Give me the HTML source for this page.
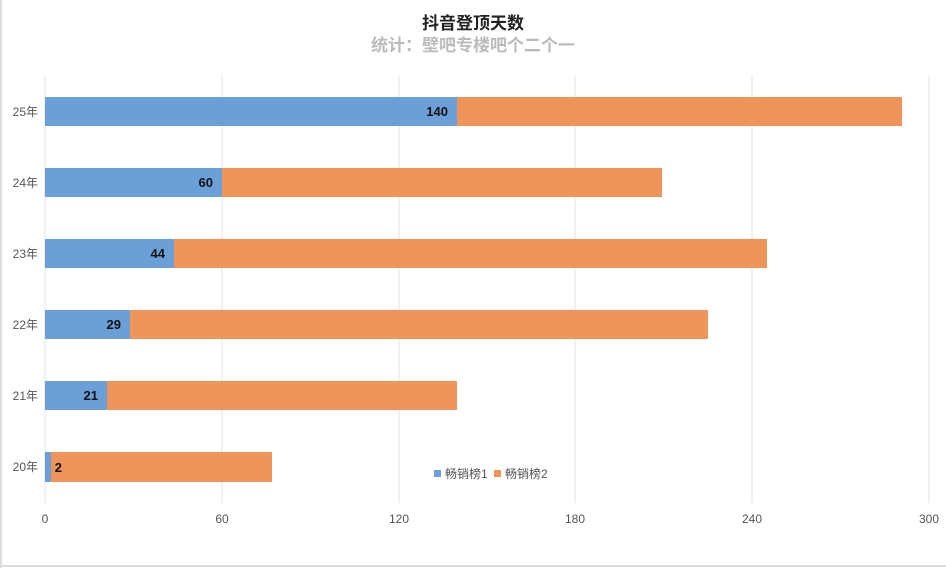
<!DOCTYPE html>
<html><head><meta charset="utf-8"><style>
body{margin:0;background:#fff;}
svg text{font-family:"Liberation Sans","Noto Sans CJK SC",sans-serif;}
</style></head><body>
<svg width="946" height="568" xmlns="http://www.w3.org/2000/svg">
<rect x="0" y="0" width="946" height="568" fill="#fff"/>
<line x1="1" y1="0" x2="1" y2="568" stroke="#ddd" stroke-width="2"/>
<line x1="0" y1="566" x2="946" y2="566" stroke="#ddd" stroke-width="2"/>
<text x="473" y="29" text-anchor="middle" font-size="17" font-weight="bold" fill="#222">抖音登顶天数</text>
<text x="473" y="51" text-anchor="middle" font-size="17" font-weight="bold" fill="#bbb">统计：壁吧专楼吧个二个一</text>
<g stroke="#e3e3e3" stroke-width="1">
<line x1="45" y1="75" x2="45" y2="503"/>
<line x1="222" y1="75" x2="222" y2="503"/>
<line x1="399" y1="75" x2="399" y2="503"/>
<line x1="575" y1="75" x2="575" y2="503"/>
<line x1="752" y1="75" x2="752" y2="503"/>
<line x1="929" y1="75" x2="929" y2="503"/>
</g>
<g font-size="12" fill="#555" text-anchor="middle">
<text x="45" y="523">0</text><text x="222" y="523">60</text><text x="399" y="523">120</text>
<text x="575" y="523">180</text><text x="752" y="523">240</text><text x="929" y="523">300</text>
</g>
<g font-size="12" fill="#555" text-anchor="end">
<text x="38" y="116">25年</text><text x="38" y="187">24年</text><text x="38" y="258">23年</text>
<text x="38" y="329">22年</text><text x="38" y="400">21年</text><text x="38" y="471">20年</text>
</g>
<g>
<rect x="45" y="97" width="412" height="29" fill="#6b9fd8"/><rect x="457" y="97" width="445" height="29" fill="#f0955a"/>
<rect x="45" y="168" width="177" height="29" fill="#6b9fd8"/><rect x="222" y="168" width="440" height="29" fill="#f0955a"/>
<rect x="45" y="239" width="129" height="29" fill="#6b9fd8"/><rect x="174" y="239" width="593" height="29" fill="#f0955a"/>
<rect x="45" y="310" width="85" height="29" fill="#6b9fd8"/><rect x="130" y="310" width="578" height="29" fill="#f0955a"/>
<rect x="45" y="381" width="62" height="29" fill="#6b9fd8"/><rect x="107" y="381" width="350" height="29" fill="#f0955a"/>
<rect x="45" y="452" width="6" height="30" fill="#6b9fd8"/><rect x="51" y="452" width="221" height="30" fill="#f0955a"/>
</g>
<g font-size="13" font-weight="bold" fill="#111" text-anchor="end">
<text x="448" y="116">140</text><text x="213" y="187">60</text><text x="165" y="258">44</text>
<text x="121" y="329">29</text><text x="98" y="400">21</text><text x="62" y="472">2</text>
</g>
<rect x="434" y="470" width="7" height="7" fill="#6b9fd8"/>
<text x="445" y="478" font-size="12" fill="#555">畅销榜1</text>
<rect x="494" y="470" width="7" height="7" fill="#f0955a"/>
<text x="505" y="478" font-size="12" fill="#555">畅销榜2</text>
</svg>
</body></html>
